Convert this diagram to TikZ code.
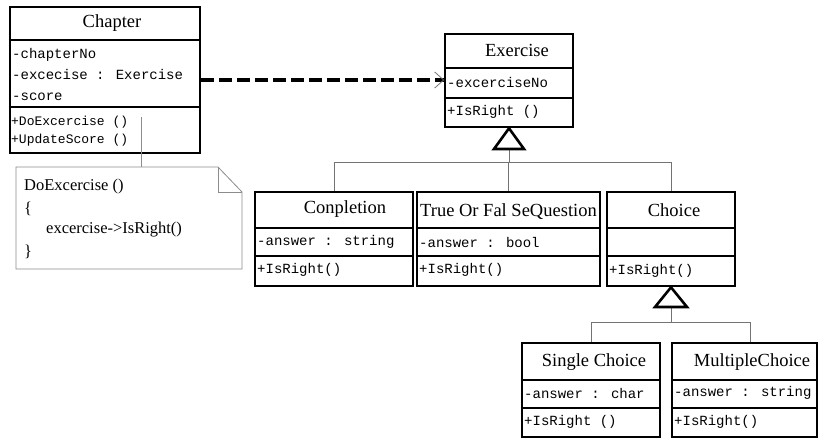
\documentclass[tikz,border=0pt]{standalone}
\usepackage{fontspec}
\setmainfont{Liberation Serif}
\newfontfamily\monof{Liberation Mono}
\usetikzlibrary{calc}
\begin{document}
\begin{tikzpicture}[x=1pt,y=-1pt,
  classbox/.style={draw=black,line width=2.6pt,inner sep=0pt,fill=none},
  divider/.style={line width=2.6pt},
  titletext/.style={font=\fontsize{18.5}{20}\selectfont,inner sep=0pt},
  membertext/.style={font=\monof\fontsize{14}{16}\selectfont,inner sep=0pt,anchor=west},
  smallmember/.style={membertext,font=\monof\fontsize{13}{15}\selectfont},
  notetext/.style={font=\fontsize{16.5}{18}\selectfont,inner sep=0pt,anchor=west},
  genline/.style={draw=black!55,line width=0.8pt},
  genhead/.style={draw=black,line width=2.6pt,fill=white,line join=miter},
  noteline/.style={draw=black!45,line width=0.8pt},
  depline/.style={line width=4pt,dash pattern=on 13pt off 5pt}]
\useasboundingbox (0,0) rectangle (819,439);
\fill[white] (0,0) rectangle (819,439);

% ---------- Chapter ----------
\node[classbox,minimum width=190pt,minimum height=146pt] (chapter) at (105,80) {};
\draw[divider] (chapter.west |- 0,40) -- (chapter.east |- 0,40);
\draw[divider] (chapter.west |- 0,107) -- (chapter.east |- 0,107);
\node[titletext] (chT) at (112,23) {Chapter};
\node[membertext] (chA1) at (12,55) {-chapterNo};
\node[membertext] (chA2) at (12,74) {-excecise : Exercise};
\node[membertext] (chA3) at (12,97) {-score};
\node[smallmember] (chM1) at (11,122) {+DoExcercise ()};
\node[smallmember] (chM2) at (11,140) {+UpdateScore ()};

% ---------- Exercise ----------
\node[classbox,minimum width=128pt,minimum height=93pt] (exercise) at (509,80.5) {};
\draw[divider] (exercise.west |- 0,68) -- (exercise.east |- 0,68);
\draw[divider] (exercise.west |- 0,98) -- (exercise.east |- 0,98);
\node[titletext] (exT) at (517,50) {Exercise};
\node[membertext] (exA1) at (447,82) {-excerciseNo};
\node[membertext] (exM1) at (447,112) {+IsRight ()};

% ---------- Conpletion ----------
\node[classbox,minimum width=158pt,minimum height=94pt] (conpletion) at (334,239) {};
\draw[divider] (conpletion.west |- 0,228) -- (conpletion.east |- 0,228);
\draw[divider] (conpletion.west |- 0,256) -- (conpletion.east |- 0,256);
\node[titletext] (coT) at (345,209) {Conpletion};
\node[membertext] (coA1) at (257,242) {-answer : string};
\node[membertext] (coM1) at (257,270) {+IsRight()};

% ---------- TrueOrFalseQuestion ----------
\node[classbox,minimum width=183pt,minimum height=94pt] (truefalse) at (508.5,239) {};
\draw[divider] (truefalse.west |- 0,228) -- (truefalse.east |- 0,228);
\draw[divider] (truefalse.west |- 0,256) -- (truefalse.east |- 0,256);
\node[titletext] (tfT) at (508.5,212) {True Or Fal SeQuestion};
\node[membertext] (tfA1) at (419,242) {-answer : bool};
\node[membertext] (tfM1) at (419,270) {+IsRight()};

% ---------- Choice ----------
\node[classbox,minimum width=128pt,minimum height=94pt] (choice) at (671,239) {};
\draw[divider] (choice.west |- 0,228) -- (choice.east |- 0,228);
\draw[divider] (choice.west |- 0,256) -- (choice.east |- 0,256);
\node[titletext] (chcT) at (674,210) {Choice};
\node[membertext] (chcM1) at (609,271) {+IsRight()};

% ---------- Single Choice ----------
\node[classbox,minimum width=138pt,minimum height=94pt] (single) at (591,390) {};
\draw[divider] (single.west |- 0,380) -- (single.east |- 0,380);
\draw[divider] (single.west |- 0,408) -- (single.east |- 0,408);
\node[titletext] (scT) at (594,362) {Single Choice};
\node[membertext] (scA1) at (524,393) {-answer : char};
\node[membertext] (scM1) at (524,422) {+IsRight ()};

% ---------- MultipleChoice ----------
\node[classbox,minimum width=145pt,minimum height=94pt] (multiple) at (744.5,390) {};
\draw[divider] (multiple.west |- 0,380) -- (multiple.east |- 0,380);
\draw[divider] (multiple.west |- 0,408) -- (multiple.east |- 0,408);
\node[titletext] (mcT) at (752,362) {MultipleChoice};
\node[membertext] (mcA1) at (674,393) {-answer : string};
\node[membertext] (mcM1) at (674,422) {+IsRight()};

% ---------- Note ----------
\draw[noteline] (16,167) -- (218,167) -- (242,192) -- (242,269) -- (16,269) -- cycle;
\draw[noteline] (218,167) -- (218,192) -- (242,192);
\node[notetext] (n1) at (24,187) {DoExcercise ()};
\node[notetext] (n2) at (24,209) {\{};
\node[notetext] (n3) at (46,230) {excercise->IsRight()};
\node[notetext] (n4) at (24,252) {\}};
\coordinate (noteAnchorTop) at (141,167);
\coordinate (noteAnchorSrc) at (141,117);
\draw[noteline] (noteAnchorSrc) -- (noteAnchorTop);

% ---------- Dependency ----------
\coordinate (depS) at (chapter.east |- 0,80);
\coordinate (depE) at (exercise.west |- 0,80);
\draw[depline] (depS) -- (depE);
\draw[draw=black!55,line width=0.8pt] ($(depE)+(-9,-8)$) -- (depE) -- ($(depE)+(-9,8)$);

% ---------- Generalisation: Exercise ----------
\coordinate (g1base) at (exercise.south |- 0,149);
\coordinate (g1bar) at (exercise.south |- 0,162);
\draw[genline] (g1base) -- (g1bar);
\draw[genline] (conpletion.north |- g1bar) -- (choice.north |- g1bar);
\draw[genline] (conpletion.north |- g1bar) -- (conpletion.north);
\draw[genline] (truefalse.north |- g1bar) -- (truefalse.north);
\draw[genline] (choice.north |- g1bar) -- (choice.north);
\draw[genhead] (exercise.south) -- ($(g1base)+(-15,0)$) -- ($(g1base)+(15,0)$) -- cycle;

% ---------- Generalisation: Choice ----------
\coordinate (g2base) at (choice.south |- 0,307);
\coordinate (g2bar) at (choice.south |- 0,322);
\draw[genline] (g2base) -- (g2bar);
\draw[genline] (single.north |- g2bar) -- ($(multiple.north |- g2bar)+(6,0)$);
\draw[genline] (single.north |- g2bar) -- (single.north);
\draw[genline] ($(multiple.north |- g2bar)+(6,0)$) -- ($(multiple.north)+(6,0)$);
\draw[genhead] (choice.south) -- ($(g2base)+(-16,0)$) -- ($(g2base)+(16,0)$) -- cycle;
\end{tikzpicture}
\end{document}
